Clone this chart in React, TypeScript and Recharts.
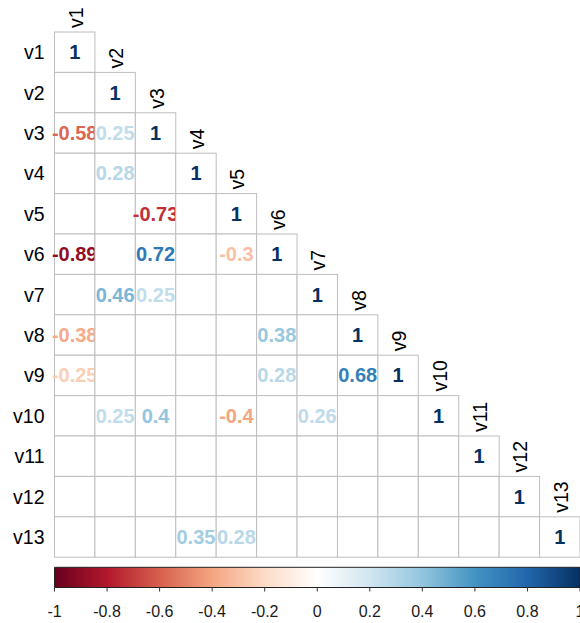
import React from "react";
import { ScatterChart, Scatter, XAxis, YAxis, ReferenceArea } from "recharts";

// ─── Data ────────────────────────────────────────────────────────────────────

const VARS = ["v1", "v2", "v3", "v4", "v5", "v6", "v7", "v8", "v9", "v10", "v11", "v12", "v13"];

// lower triangle, row by row (null = blank cell)
const ROW_V1 = [1];
const ROW_V2 = [null, 1];
const ROW_V3 = [-0.58, 0.25, 1];
const ROW_V4 = [null, 0.28, null, 1];
const ROW_V5 = [null, null, -0.73, null, 1];
const ROW_V6 = [-0.89, null, 0.72, null, -0.3, 1];
const ROW_V7 = [null, 0.46, 0.25, null, null, null, 1];
const ROW_V8 = [-0.38, null, null, null, null, 0.38, null, 1];
const ROW_V9 = [-0.25, null, null, null, null, 0.28, null, 0.68, 1];
const ROW_V10 = [null, 0.25, 0.4, null, -0.4, null, 0.26, null, null, 1];
const ROW_V11 = [null, null, null, null, null, null, null, null, null, null, 1];
const ROW_V12 = [null, null, null, null, null, null, null, null, null, null, null, 1];
const ROW_V13 = [null, null, null, 0.35, 0.28, null, null, null, null, null, null, null, 1];

const ROWS: (number | null)[][] = [
  ROW_V1, ROW_V2, ROW_V3, ROW_V4, ROW_V5, ROW_V6, ROW_V7,
  ROW_V8, ROW_V9, ROW_V10, ROW_V11, ROW_V12, ROW_V13,
];

const LEGEND_TICKS = [-1, -0.8, -0.6, -0.4, -0.2, 0, 0.2, 0.4, 0.6, 0.8, 1];

const RDBU = [
  "#67001F", "#B2182B", "#D6604D", "#F4A582", "#FDDBC7", "#FFFFFF",
  "#D1E5F0", "#92C5DE", "#4393C3", "#2166AC", "#053061",
];

// ─── Layout ──────────────────────────────────────────────────────────────────

const W = 580;
const H = 623;
const TOP = 32;
const Y_AXIS_W = 54.5;
const X_AXIS_H = 35.5;
const N = VARS.length;
const CB_TOP = 13.75; // colour bar sits below the rows, in 13.75..14.25
const Y_MAX = 14.25;
const CELL_W = (W - Y_AXIS_W) / N;
const CELL_H = (H - TOP - X_AXIS_H) / (Y_MAX - 0.5);
const FONT = "'Liberation Sans', Arial, Helvetica, sans-serif";

// ─── Helpers ─────────────────────────────────────────────────────────────────

function hexToRgb(h: string): number[] {
  return [1, 3, 5].map((i) => parseInt(h.slice(i, i + 2), 16));
}

function corrColor(v: number): string {
  const t = ((v + 1) / 2) * (RDBU.length - 1);
  const i = Math.min(RDBU.length - 2, Math.max(0, Math.floor(t)));
  const f = t - i;
  const a = hexToRgb(RDBU[i]);
  const b = hexToRgb(RDBU[i + 1]);
  const c = a.map((x, k) => Math.round(x + (b[k] - x) * f));
  return `rgb(${c[0]},${c[1]},${c[2]})`;
}

// column-major so later columns paint over text spilling out of earlier ones
const cells: { col: number; row: number; value: number | null }[] = [];
for (let c = 1; c <= N; c++) {
  for (let r = c; r <= N; r++) {
    const v = ROWS[r - 1][c - 1];
    cells.push({ col: c, row: r, value: v === undefined ? null : v });
  }
}

// invisible anchor points so the colour-bar axis is in use
const legendPoints = LEGEND_TICKS.map((t) => ({ tick: t, row: Y_MAX }));

function CellShape(props: any) {
  const { cx, cy, payload } = props;
  if (cx == null || cy == null) return null;
  const v: number | null = payload.value;
  const diag = payload.col === payload.row;
  const top = cy - CELL_H / 2;
  return (
    <g>
      <rect
        x={cx - CELL_W / 2}
        y={top}
        width={CELL_W}
        height={CELL_H}
        fill="#FFFFFF"
        stroke="#BEBEBE"
        strokeWidth={1}
      />
      {v !== null && (
        <text
          x={cx}
          y={cy + 7}
          textAnchor="middle"
          fontFamily={FONT}
          fontSize={20}
          fontWeight="bold"
          fill={corrColor(v)}
        >
          {String(v)}
        </text>
      )}
      {diag && (
        <text
          x={cx + 8}
          y={top - 4}
          transform={`rotate(-90, ${cx + 8}, ${top - 4})`}
          textAnchor="start"
          fontFamily={FONT}
          fontSize={19.5}
          fill="#000000"
        >
          {VARS[payload.col - 1]}
        </text>
      )}
    </g>
  );
}

function NoShape() {
  return <g />;
}

// ─── Main ────────────────────────────────────────────────────────────────────

export default function App() {
  return (
    <div style={{ position: "absolute", left: 0, top: 0, width: W, height: H, background: "#fff", fontFamily: FONT }}>
      <ScatterChart width={W} height={H} margin={{ top: TOP, right: 0, bottom: 0, left: 0 }}>
        <defs>
          <linearGradient id="rdbu" x1="0" y1="0" x2="1" y2="0">
            {RDBU.map((c, i) => (
              <stop key={c} offset={`${(i / (RDBU.length - 1)) * 100}%`} stopColor={c} />
            ))}
          </linearGradient>
        </defs>
        <XAxis xAxisId="grid" dataKey="col" type="number" domain={[0.5, N + 0.5]} hide />
        <XAxis
          xAxisId="cb"
          dataKey="tick"
          type="number"
          domain={[-1, 1]}
          ticks={LEGEND_TICKS}
          interval={0}
          height={X_AXIS_H}
          axisLine={false}
          tickSize={4}
          tickMargin={14}
          tickLine={{ stroke: "#333333" }}
          tick={{ fontSize: 16, fill: "#1a1a1a", fontFamily: FONT }}
          tickFormatter={(v: number) => String(parseFloat(v.toFixed(1)))}
        />
        <YAxis
          yAxisId="rows"
          dataKey="row"
          type="number"
          reversed
          domain={[0.5, Y_MAX]}
          ticks={VARS.map((_, i) => i + 1)}
          interval={0}
          width={Y_AXIS_W}
          axisLine={false}
          tickLine={false}
          tickSize={0}
          tickMargin={10}
          tick={{ fontSize: 19.5, fill: "#000000", fontFamily: FONT }}
          tickFormatter={(i: number) => VARS[i - 1]}
        />
        <Scatter
          data={legendPoints}
          xAxisId="cb"
          yAxisId="rows"
          shape={NoShape}
          isAnimationActive={false}
        />
        <ReferenceArea
          xAxisId="cb"
          yAxisId="rows"
          x1={-1}
          x2={1}
          y1={CB_TOP}
          y2={Y_MAX}
          fill="url(#rdbu)"
          fillOpacity={1}
          stroke="#222222"
          strokeWidth={1}
          ifOverflow="visible"
        />
        <Scatter
          data={cells}
          xAxisId="grid"
          yAxisId="rows"
          shape={CellShape}
          isAnimationActive={false}
        />
      </ScatterChart>
    </div>
  );
}
